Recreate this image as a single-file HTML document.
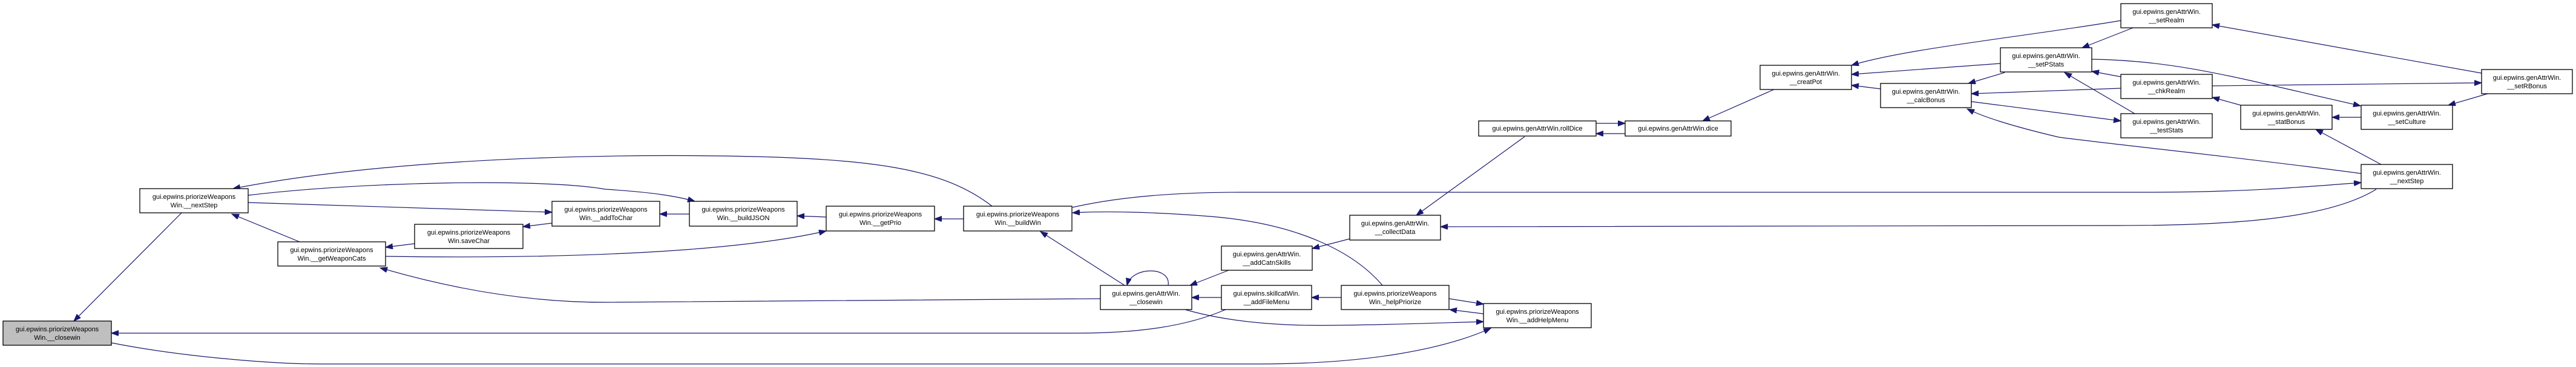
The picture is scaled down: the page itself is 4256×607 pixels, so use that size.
<!DOCTYPE html>
<html><head><meta charset="utf-8"><style>
html,body{margin:0;padding:0;background:#fff}
svg{display:block}
text{font-family:"Liberation Sans",sans-serif;font-size:11px;fill:#000;text-anchor:middle}
.n{fill:#fff;stroke:#000;stroke-width:1.3}
.e{fill:none;stroke:#191970;stroke-width:1.2}
</style></head><body>
<svg width="4256" height="607" viewBox="0 0 4256 607" xmlns="http://www.w3.org/2000/svg">
<defs>
<marker id="a" markerUnits="userSpaceOnUse" markerWidth="14" markerHeight="10" refX="12" refY="4.5" orient="auto">
<path d="M0,0 L12,4.5 L0,9 Z" fill="#191970" stroke="#191970"/>
</marker>
</defs>
<g class="e">
<path d="M300,352 L122,531" marker-end="url(#a)"/>
<path d="M495,400 L383,354" marker-end="url(#a)"/>
<path d="M1639,341 C1560,280 1450,262 1200,258 C900,254 600,270 385,312" marker-end="url(#a)"/>
<path d="M410,323 C600,300 900,295 1000,313 C1080,318 1120,325 1148,333" marker-end="url(#a)"/>
<path d="M410,335 L912,351" marker-end="url(#a)"/>
<path d="M685,403 L637,409" marker-end="url(#a)"/>
<path d="M912,369 L864,375" marker-end="url(#a)"/>
<path d="M1139,354 L1090,354" marker-end="url(#a)"/>
<path d="M1365,359 L1317,357" marker-end="url(#a)"/>
<path d="M1592,362 L1544,362" marker-end="url(#a)"/>
<path d="M637,424 C900,428 1200,420 1365,382" marker-end="url(#a)"/>
<path d="M1818,494 L1000,500 C850,500 720,470 628,443" marker-end="url(#a)"/>
<path d="M1858,472 L1719,383" marker-end="url(#a)"/>
<path d="M1930,472 C1935,440 1870,440 1862,472" marker-end="url(#a)"/>
<path d="M2030,447 L1966,472" marker-end="url(#a)"/>
<path d="M2018,492 L1969,492" marker-end="url(#a)"/>
<path d="M2025,512 C1960,540 1880,551 1780,551 L184,551" marker-end="url(#a)"/>
<path d="M1958,512 C2020,530 2100,540 2210,538 C2300,537 2380,534 2451,532" marker-end="url(#a)"/>
<path d="M184,567 C300,590 450,602 529,602 L2080,602 C2250,602 2380,580 2463,543" marker-end="url(#a)"/>
<path d="M2216,492 L2167,492" marker-end="url(#a)"/>
<path d="M2394,494 L2451,503" marker-end="url(#a)"/>
<path d="M2451,519 L2395,512" marker-end="url(#a)"/>
<path d="M2284,472 C2240,420 2150,370 2000,358 C1900,350 1820,349 1772,352" marker-end="url(#a)"/>
<path d="M1772,343 C1850,325 1950,318 2050,318 L3550,318 C3700,318 3800,310 3901,302" marker-end="url(#a)"/>
<path d="M3926,313 C3850,360 3700,373 3500,373 L2380,375" marker-end="url(#a)"/>
<path d="M2230,395 L2168,411" marker-end="url(#a)"/>
<path d="M2519,226 L2340,356" marker-end="url(#a)"/>
<path d="M2637,204 L2685,204" marker-end="url(#a)"/>
<path d="M2685,221 L2637,221" marker-end="url(#a)"/>
<path d="M2931,148 L2813,200" marker-end="url(#a)"/>
<path d="M3504,34 C3350,60 3150,80 3059,108" marker-end="url(#a)"/>
<path d="M3305,105 L3059,123" marker-end="url(#a)"/>
<path d="M3107,147 L3059,141" marker-end="url(#a)"/>
<path d="M3524,46 L3440,79" marker-end="url(#a)"/>
<path d="M3312,120 L3252,138" marker-end="url(#a)"/>
<path d="M3504,127 L3456,118" marker-end="url(#a)"/>
<path d="M3504,146 L3257,155" marker-end="url(#a)"/>
<path d="M3257,168 L3504,200" marker-end="url(#a)"/>
<path d="M3527,188 L3411,120" marker-end="url(#a)"/>
<path d="M3901,287 C3700,260 3500,240 3402,227 C3330,210 3280,195 3250,180" marker-end="url(#a)"/>
<path d="M3702,174 L3655,161" marker-end="url(#a)"/>
<path d="M3901,194 L3853,194" marker-end="url(#a)"/>
<path d="M3934,272 L3826,214" marker-end="url(#a)"/>
<path d="M3456,98 C3600,100 3700,130 3900,175" marker-end="url(#a)"/>
<path d="M3655,142 L4100,137" marker-end="url(#a)"/>
<path d="M4100,121 L3655,41" marker-end="url(#a)"/>
<path d="M4110,155 L4045,174" marker-end="url(#a)"/>
</g>
<g>
<rect class="n" x="5" y="531" width="179" height="40" style="fill:#bfbfbf"/><text x="94.5" y="548">gui.epwins.priorizeWeapons</text><text x="94.5" y="562">Win.__closewin</text>
<rect class="n" x="231" y="312" width="179" height="40"/><text x="320.5" y="329">gui.epwins.priorizeWeapons</text><text x="320.5" y="343">Win.__nextStep</text>
<rect class="n" x="459" y="400" width="178" height="40"/><text x="548" y="417">gui.epwins.priorizeWeapons</text><text x="548" y="431">Win.__getWeaponCats</text>
<rect class="n" x="685" y="371" width="179" height="40"/><text x="774.5" y="388">gui.epwins.priorizeWeapons</text><text x="774.5" y="402">Win.saveChar</text>
<rect class="n" x="912" y="333" width="178" height="41"/><text x="1001" y="350">gui.epwins.priorizeWeapons</text><text x="1001" y="364">Win.__addToChar</text>
<rect class="n" x="1139" y="333" width="178" height="41"/><text x="1228" y="350">gui.epwins.priorizeWeapons</text><text x="1228" y="364">Win.__buildJSON</text>
<rect class="n" x="1365" y="341" width="179" height="41"/><text x="1454.5" y="358">gui.epwins.priorizeWeapons</text><text x="1454.5" y="372">Win.__getPrio</text>
<rect class="n" x="1592" y="341" width="179" height="41"/><text x="1681.5" y="358">gui.epwins.priorizeWeapons</text><text x="1681.5" y="372">Win.__buildWin</text>
<rect class="n" x="1818" y="472" width="151" height="40"/><text x="1893.5" y="489">gui.epwins.genAttrWin.</text><text x="1893.5" y="503">__closewin</text>
<rect class="n" x="2018" y="407" width="150" height="40"/><text x="2093" y="424">gui.epwins.genAttrWin.</text><text x="2093" y="438">__addCatnSkills</text>
<rect class="n" x="2018" y="472" width="149" height="40"/><text x="2092.5" y="489">gui.epwins.skillcatWin.</text><text x="2092.5" y="503">__addFileMenu</text>
<rect class="n" x="2216" y="472" width="178" height="40"/><text x="2305" y="489">gui.epwins.priorizeWeapons</text><text x="2305" y="503">Win._helpPriorize</text>
<rect class="n" x="2451" y="502" width="178" height="40"/><text x="2540" y="519">gui.epwins.priorizeWeapons</text><text x="2540" y="533">Win.__addHelpMenu</text>
<rect class="n" x="2230" y="356" width="150" height="41"/><text x="2305" y="373">gui.epwins.genAttrWin.</text><text x="2305" y="387">__collectData</text>
<rect class="n" x="2443" y="200" width="194" height="25"/><text x="2540" y="216">gui.epwins.genAttrWin.rollDice</text>
<rect class="n" x="2685" y="200" width="175" height="25"/><text x="2772.5" y="216">gui.epwins.genAttrWin.dice</text>
<rect class="n" x="2908" y="108" width="151" height="40"/><text x="2983.5" y="125">gui.epwins.genAttrWin.</text><text x="2983.5" y="139">__creatPot</text>
<rect class="n" x="3107" y="138" width="150" height="40"/><text x="3182" y="155">gui.epwins.genAttrWin.</text><text x="3182" y="169">__calcBonus</text>
<rect class="n" x="3504" y="6" width="151" height="40"/><text x="3579.5" y="23">gui.epwins.genAttrWin.</text><text x="3579.5" y="37">__setRealm</text>
<rect class="n" x="3305" y="79" width="151" height="40"/><text x="3380.5" y="96">gui.epwins.genAttrWin.</text><text x="3380.5" y="110">__setPStats</text>
<rect class="n" x="3504" y="123" width="151" height="40"/><text x="3579.5" y="140">gui.epwins.genAttrWin.</text><text x="3579.5" y="154">__chkRealm</text>
<rect class="n" x="3504" y="188" width="151" height="40"/><text x="3579.5" y="205">gui.epwins.genAttrWin.</text><text x="3579.5" y="219">__testStats</text>
<rect class="n" x="3702" y="174" width="151" height="40"/><text x="3777.5" y="191">gui.epwins.genAttrWin.</text><text x="3777.5" y="205">__statBonus</text>
<rect class="n" x="3901" y="174" width="151" height="40"/><text x="3976.5" y="191">gui.epwins.genAttrWin.</text><text x="3976.5" y="205">__setCulture</text>
<rect class="n" x="4100" y="115" width="150" height="40"/><text x="4175" y="132">gui.epwins.genAttrWin.</text><text x="4175" y="146">__setRBonus</text>
<rect class="n" x="3901" y="272" width="151" height="40"/><text x="3976.5" y="289">gui.epwins.genAttrWin.</text><text x="3976.5" y="303">__nextStep</text>
</g>
</svg>
</body></html>
